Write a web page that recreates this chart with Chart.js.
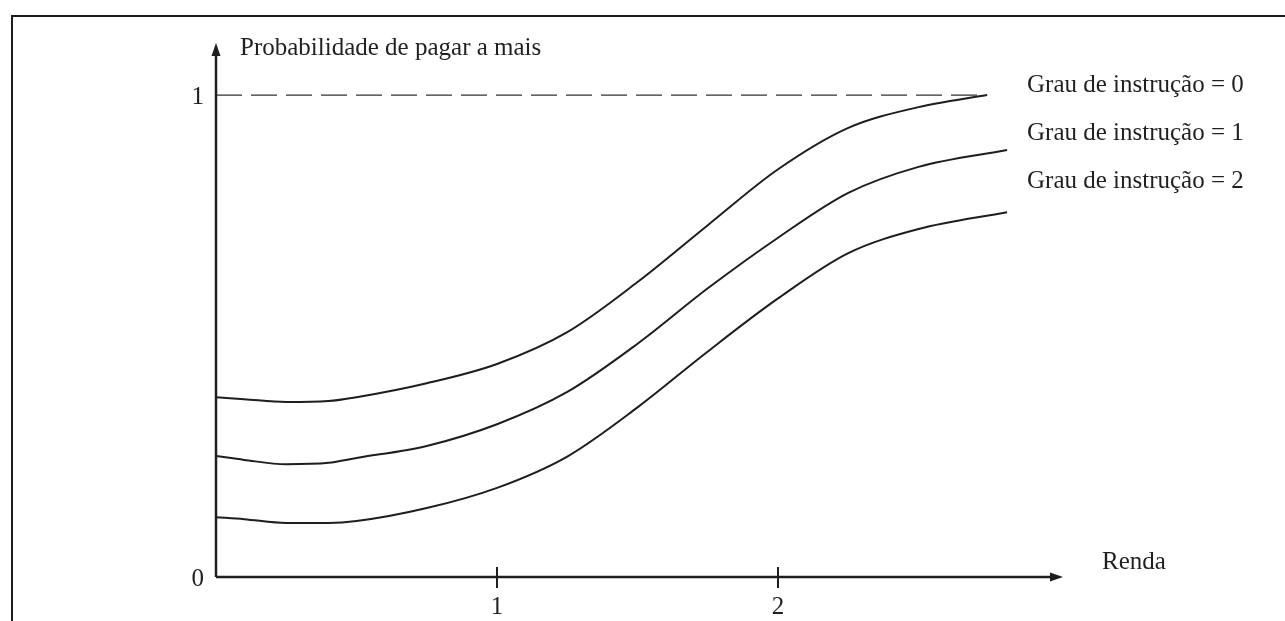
<!DOCTYPE html>
<html>
<head>
<meta charset="utf-8">
<script src="https://cdn.jsdelivr.net/npm/chart.js@4"></script>
<style>
  html, body { margin: 0; padding: 0; background: #fff; }
  #grafico { display: block; }
</style>
</head>
<body>
<canvas id="grafico" width="1285" height="621"></canvas>
<script>
// Dados
const rendaGrau0 = [0, 0.1, 0.25, 0.4, 0.5, 0.75, 1, 1.25, 1.5, 1.75, 2, 2.25, 2.5, 2.744];
const probGrau0  = [0.373, 0.369, 0.363, 0.365, 0.373, 0.402, 0.442, 0.508, 0.612, 0.730, 0.846, 0.932, 0.975, 1.0];

const rendaGrau12 = [0, 0.1, 0.25, 0.4, 0.5, 0.75, 1, 1.25, 1.5, 1.75, 2, 2.25, 2.5, 2.815];
const probGrau1  = [0.251, 0.243, 0.234, 0.237, 0.247, 0.272, 0.317, 0.384, 0.484, 0.599, 0.704, 0.797, 0.851, 0.886];
const probGrau2  = [0.124, 0.120, 0.112, 0.112, 0.116, 0.143, 0.185, 0.250, 0.352, 0.468, 0.578, 0.672, 0.722, 0.757];

const legendas = ['Grau de instrução = 0', 'Grau de instrução = 1', 'Grau de instrução = 2'];
const ticksRenda = [1, 2];
const ticksProb = [0, 1];
const tituloY = 'Probabilidade de pagar a mais';
const tituloX = 'Renda';

const fonte = '25px "Liberation Serif", "DejaVu Serif", serif';
const corTraco = '#1e1e1e';

function pontos(xs, ys) {
    return xs.map((x, i) => ({ x: x, y: ys[i] }));
}

// Eixos, setas, rótulos e moldura desenhados à mão
const eixosPlugin = {
    id: 'eixos',
    afterDraw(chart) {
        const ctx = chart.ctx;
        const sx = chart.scales.x;
        const sy = chart.scales.y;
        const area = chart.chartArea;
        const x0 = sx.getPixelForValue(0);
        const y0 = sy.getPixelForValue(0);

        ctx.save();
        ctx.strokeStyle = corTraco;
        ctx.fillStyle = corTraco;

        // moldura (topo e esquerda)
        ctx.lineWidth = 2;
        ctx.beginPath();
        ctx.moveTo(12, 621);
        ctx.lineTo(12, 16);
        ctx.lineTo(1285, 16);
        ctx.stroke();

        // eixo y
        ctx.lineWidth = 2.5;
        ctx.beginPath();
        ctx.moveTo(x0, y0);
        ctx.lineTo(x0, area.top + 10);
        ctx.stroke();
        ctx.beginPath();
        ctx.moveTo(x0, area.top);
        ctx.lineTo(x0 - 4.5, area.top + 13);
        ctx.lineTo(x0 + 4.5, area.top + 13);
        ctx.closePath();
        ctx.fill();

        // eixo x
        ctx.beginPath();
        ctx.moveTo(x0, y0);
        ctx.lineTo(area.right - 10, y0);
        ctx.stroke();
        ctx.beginPath();
        ctx.moveTo(area.right, y0);
        ctx.lineTo(area.right - 13, y0 - 4.5);
        ctx.lineTo(area.right - 13, y0 + 4.5);
        ctx.closePath();
        ctx.fill();

        // marcas no eixo x
        ctx.lineWidth = 2;
        ticksRenda.forEach(v => {
            const px = Math.round(sx.getPixelForValue(v));
            ctx.beginPath();
            ctx.moveTo(px, y0 - 10);
            ctx.lineTo(px, y0 + 11);
            ctx.stroke();
        });

        // textos
        ctx.font = fonte;
        ctx.fillStyle = '#231f20';
        ctx.textBaseline = 'alphabetic';

        ctx.textAlign = 'center';
        ticksRenda.forEach(v => {
            ctx.fillText(String(v), sx.getPixelForValue(v), y0 + 37);
        });

        ctx.textAlign = 'right';
        ticksProb.forEach(v => {
            ctx.fillText(String(v), x0 - 12, sy.getPixelForValue(v) + 9);
        });

        ctx.textAlign = 'left';
        ctx.fillText(tituloY, x0 + 24, 55);
        ctx.fillText(tituloX, 1102, 569);

        legendas.forEach((txt, i) => {
            ctx.fillText(txt, 1027, 92 + i * 48);
        });

        ctx.restore();
    }
};

const serieLinha = (dados) => ({
    data: dados,
    borderColor: corTraco,
    borderWidth: 2,
    pointRadius: 0,
    fill: false,
    cubicInterpolationMode: 'monotone'
});

new Chart(document.getElementById('grafico'), {
    type: 'line',
    data: {
        datasets: [
            {
                data: pontos([0, 2.744], [1, 1]),
                borderColor: '#333',
                borderWidth: 1.2,
                borderDash: [26, 9],
                pointRadius: 0,
                fill: false
            },
            serieLinha(pontos(rendaGrau0, probGrau0)),
            serieLinha(pontos(rendaGrau12, probGrau1)),
            serieLinha(pontos(rendaGrau12, probGrau2))
        ]
    },
    options: {
        responsive: false,
        devicePixelRatio: 1,
        animation: false,
        layout: { padding: { left: 216, right: 222, top: 43, bottom: 44 } },
        scales: {
            x: { type: 'linear', min: 0, max: 3.014, display: false },
            y: { type: 'linear', min: 0, max: 1.108, display: false }
        },
        plugins: {
            legend: { display: false },
            tooltip: { enabled: false }
        }
    },
    plugins: [eixosPlugin]
});
</script>
</body>
</html>
